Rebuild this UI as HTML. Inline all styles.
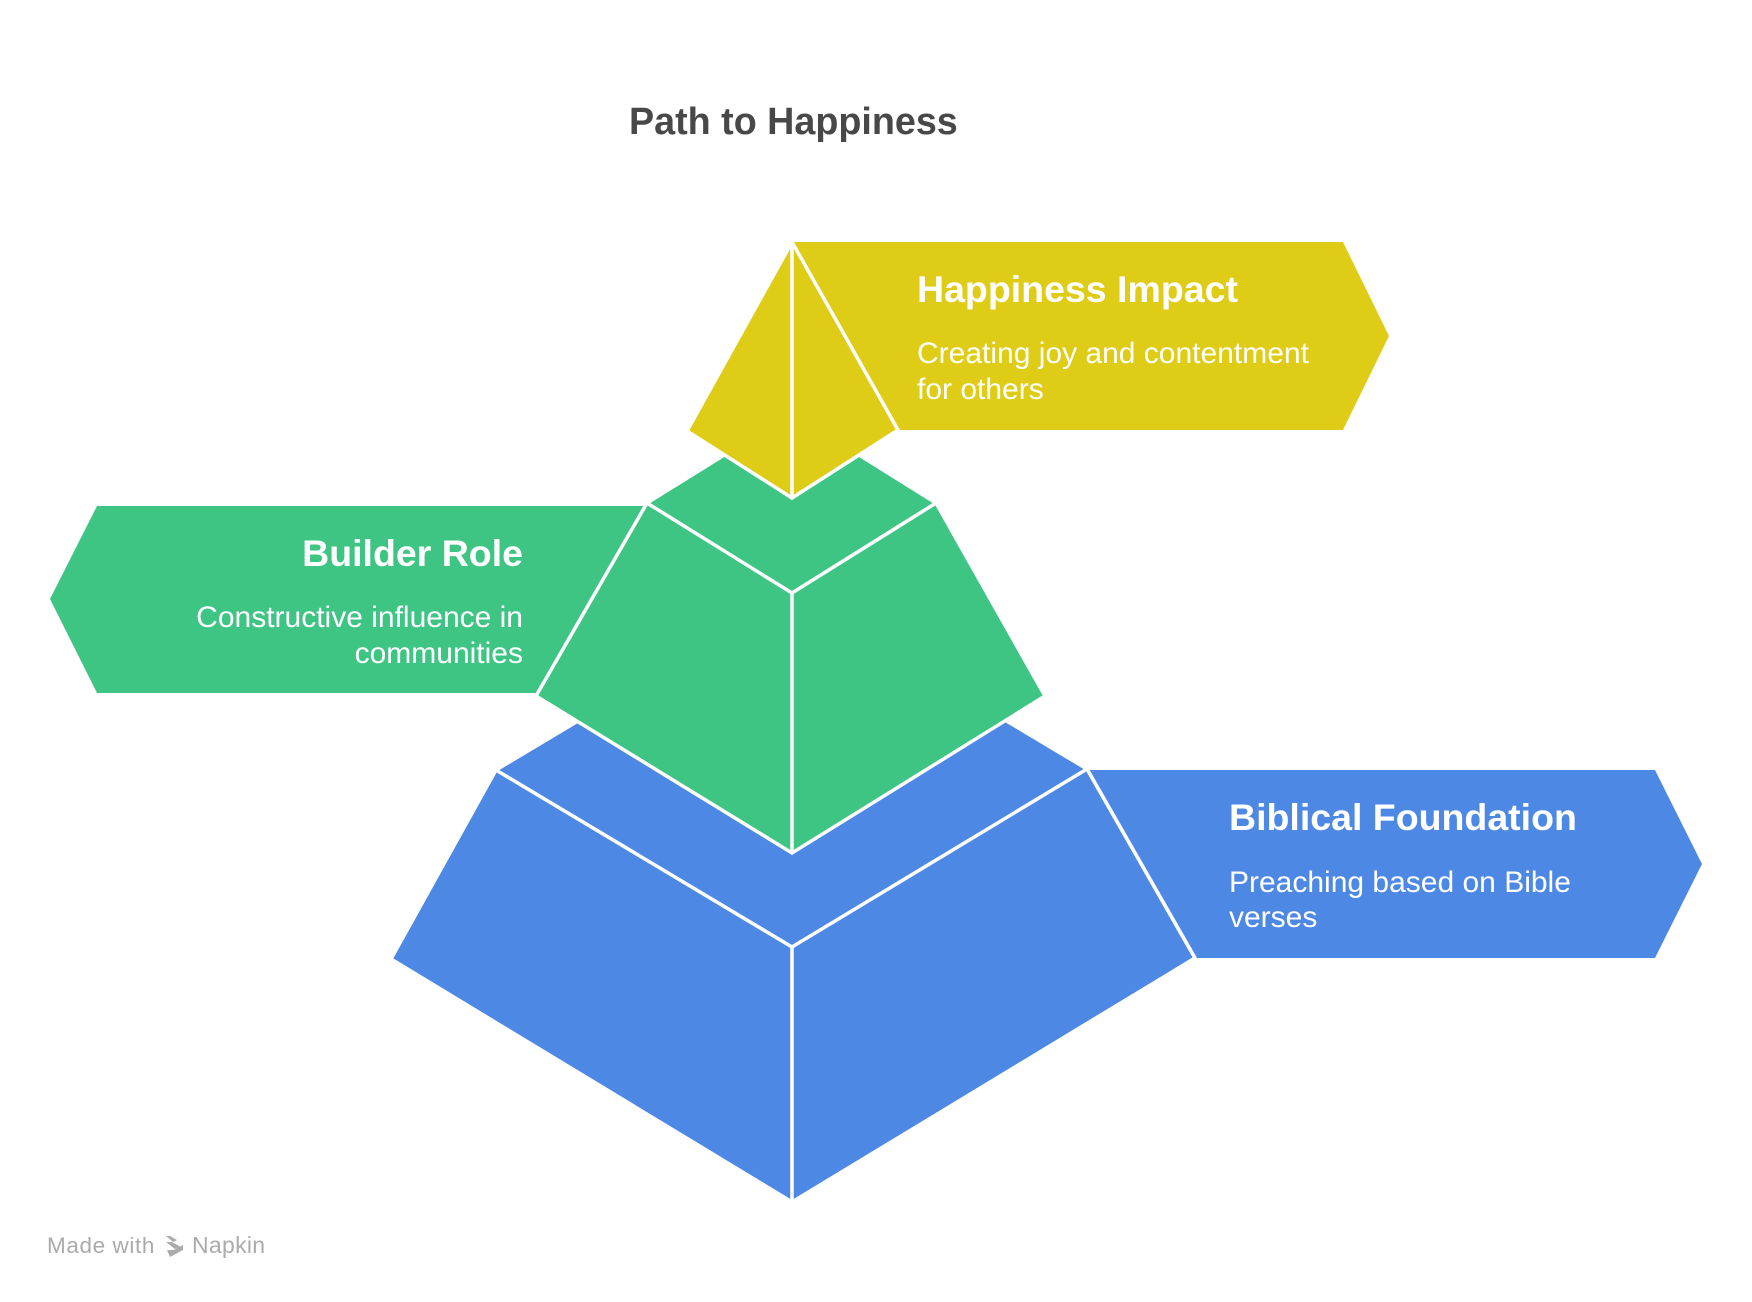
<!DOCTYPE html>
<html>
<head>
<meta charset="utf-8">
<style>
  html, body { margin:0; padding:0; background:#ffffff; }
  body { width:1752px; height:1302px; overflow:hidden; }
  svg { display:block; }
  .h { font-family:"Liberation Sans", Arial, sans-serif; font-weight:bold; font-size:37.5px; fill:#ffffff; }
  .b { font-family:"Liberation Sans", Arial, sans-serif; font-size:30px; fill:#ffffff; }
</style>
</head>
<body>
<svg width="1752" height="1302" viewBox="0 0 1752 1302" xmlns="http://www.w3.org/2000/svg">
  <rect width="1752" height="1302" fill="#ffffff"/>

  <!-- Title -->
  <text x="629" y="134" font-family="Liberation Sans, Arial, sans-serif" font-weight="bold" font-size="37.7" fill="#484848">Path to Happiness</text>

  <!-- BLUE layer -->
  <polygon points="1087,770 1655,770 1702,864 1655,958 1195,958" fill="#4E88E5"/>
  <g fill="#4E88E5" stroke="#ffffff" stroke-width="3.5" stroke-linejoin="miter">
    <polygon points="496,770 792,593 1087,769 1195,958 792,1202 391,959"/>
  </g>
  <g stroke="#ffffff" stroke-width="3.5" fill="none">
    <polyline points="496,770 792,947 1087,769"/>
    <line x1="792" y1="947" x2="792" y2="1202"/>
    <line x1="1087" y1="769" x2="1195" y2="958"/>
  </g>

  <!-- GREEN layer -->
  <polygon points="50,599 97,506 647,506 536,693 97,693" fill="#3EC584"/>
  <g fill="#3EC584" stroke="#ffffff" stroke-width="3.5" stroke-linejoin="miter">
    <polygon points="647,503 792,413 936,503 1045,696 792,853 536,696"/>
  </g>
  <g stroke="#ffffff" stroke-width="3.5" fill="none">
    <polyline points="647,503 792,593 936,503"/>
    <line x1="792" y1="593" x2="792" y2="853"/>
  </g>

  <!-- YELLOW layer -->
  <polygon points="792,242 1343,242 1389,336 1343,430 898,430" fill="#DFCC16"/>
  <g fill="#DFCC16" stroke="#ffffff" stroke-width="3.5" stroke-linejoin="miter">
    <polygon points="792,242 898,430 792,498 687,431"/>
  </g>
  <g stroke="#ffffff" stroke-width="3.5" fill="none">
    <line x1="792" y1="242" x2="792" y2="498"/>
  </g>

  <!-- Yellow label text -->
  <text class="h" x="917" y="302">Happiness Impact</text>
  <text class="b" x="917" y="363">Creating joy and contentment</text>
  <text class="b" x="917" y="399">for others</text>

  <!-- Green label text -->
  <text class="h" x="523" y="566" text-anchor="end">Builder Role</text>
  <text class="b" x="523" y="627" text-anchor="end">Constructive influence in</text>
  <text class="b" x="523" y="663" text-anchor="end">communities</text>

  <!-- Blue label text -->
  <text class="h" x="1229" y="830">Biblical Foundation</text>
  <text class="b" x="1229" y="892">Preaching based on Bible</text>
  <text class="b" x="1229" y="927">verses</text>

  <!-- Footer -->
  <text x="47" y="1253" font-family="Liberation Sans, Arial, sans-serif" font-size="22.5" letter-spacing="0.6" fill="#ababab">Made with</text>
  <g fill="#ababab">
    <polygon points="166,1236 170,1236 177,1240 173,1242"/>
    <polygon points="166,1242 172,1242 181,1247 175,1249"/>
    <polygon points="167,1250 174,1250 183,1245 183,1250 170,1257"/>
  </g>
  <text x="192" y="1253" font-family="Liberation Sans, Arial, sans-serif" font-size="23" letter-spacing="0.3" fill="#ababab">Napkin</text>
</svg>
</body>
</html>
